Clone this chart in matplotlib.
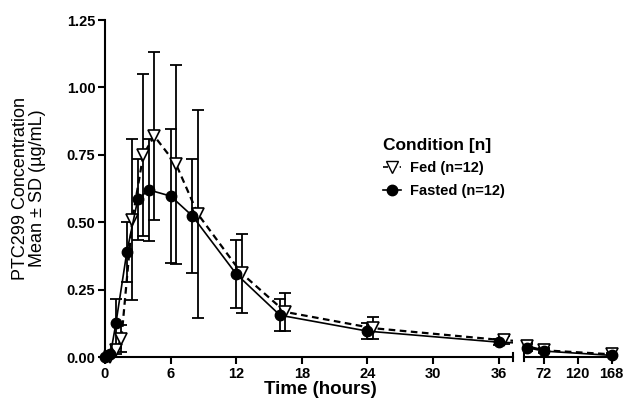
import matplotlib
matplotlib.use("Agg")
import matplotlib.pyplot as plt
import numpy as np

plt.rcParams['font.family'] = ['Liberation Sans', 'DejaVu Sans']

# === data ===
times = [0, 0.5, 1, 2, 3, 4, 6, 8, 12, 16, 24, 36, 48, 72, 168]
fasted = [0, 0.01, 0.125, 0.39, 0.585, 0.62, 0.597, 0.523, 0.308, 0.155, 0.096, 0.055, 0.035, 0.022, 0.006]
fasted_sd = [0, 0.01, 0.09, 0.11, 0.15, 0.19, 0.25, 0.21, 0.125, 0.06, 0.03, 0.01, 0.012, 0.008, 0.004]
fed = [0, 0.025, 0.068, 0.51, 0.75, 0.82, 0.715, 0.53, 0.31, 0.167, 0.107, 0.062, 0.04, 0.025, 0.01]
fed_sd = [0, 0.015, 0.05, 0.30, 0.30, 0.31, 0.37, 0.385, 0.146, 0.07, 0.04, 0.015, 0.012, 0.008, 0.005]
fed_nudge = 0.5  # fed points are shifted right a little on the first segment

left_ticks = [0, 6, 12, 18, 24, 30, 36]
right_ticks = [72, 120, 168]
y_ticks = [0.0, 0.25, 0.5, 0.75, 1.0, 1.25]

t = np.array(times, dtype=float)
t_fed = np.where(t < 40, t + fed_nudge, t)
fed = np.array(fed)
fasted = np.array(fasted)
fed_sd = np.array(fed_sd)
fasted_sd = np.array(fasted_sd)

fig = plt.figure(figsize=(6.23, 4.01), dpi=100)
ax1 = fig.add_axes([0.1685, 0.1097, 0.6549, 0.8403])
ax2 = fig.add_axes([0.8411, 0.1097, 0.1429, 0.8403])

segments = [(ax1, 0, 37.3), (ax2, 44, 170)]
for ax, lo, hi in segments:
    sf = (t_fed >= lo) & (t_fed <= hi)
    sa = (t >= lo) & (t <= hi)
    # fed: dashed line, open down triangles
    ax.plot(t_fed, fed, ls=(0, (3, 2)), color='black', lw=1.6, zorder=3)
    ax.errorbar(t_fed[sf], fed[sf], yerr=fed_sd[sf], fmt='none', ecolor='black',
                elinewidth=1.3, capsize=4, capthick=1.3, zorder=2)
    ax.plot(t_fed[sf], fed[sf], ls='none', marker='v', ms=8.5, mfc='white',
            mec='black', mew=1.2, zorder=3, clip_on=False)
    # fasted: solid line, filled circles
    ax.plot(t, fasted, ls='-', color='black', lw=1.2, zorder=4)
    ax.errorbar(t[sa], fasted[sa], yerr=fasted_sd[sa], fmt='none', ecolor='black',
                elinewidth=1.3, capsize=4, capthick=1.3, zorder=2)
    ax.plot(t[sa], fasted[sa], ls='none', marker='o', ms=7.5, mfc='black',
            mec='black', zorder=4, clip_on=False)
    ax.set_xlim(lo, hi)
    ax.set_ylim(0, 1.25)
    ax.spines['top'].set_visible(False)
    ax.spines['right'].set_visible(False)
    ax.spines['bottom'].set_linewidth(1.5)
    ax.spines['left'].set_linewidth(1.5)
    ax.tick_params(direction='out', length=5, width=1.5, labelsize=10.5, pad=2)

ax1.set_xticks(left_ticks)
ax1.set_xticklabels([str(v) for v in left_ticks], fontweight='bold')
ax1.set_yticks(y_ticks)
ax1.set_yticklabels(['%.2f' % v for v in y_ticks], fontweight='bold')

ax2.set_xticks(right_ticks)
ax2.set_xticklabels([str(v) for v in right_ticks], fontweight='bold')
ax2.spines['left'].set_visible(False)
ax2.set_yticks([])

# break marks at segment ends
ax1.plot([1, 1], [-0.012, 0.012], transform=ax1.transAxes, color='black', lw=1.5, clip_on=False)
ax2.plot([0, 0], [-0.012, 0.012], transform=ax2.transAxes, color='black', lw=1.5, clip_on=False)

fig.text(0.047, 0.531, 'PTC299 Concentration\nMean ± SD (µg/mL)', rotation=90,
         ha='center', va='center', fontsize=13, linespacing=1.0)
fig.text(0.514, 0.008, 'Time (hours)', ha='center', va='bottom', fontsize=13.5, fontweight='bold')

h_fed, = ax1.plot([], [], ls=(0, (3, 2)), color='black', lw=1.2, marker='v', ms=8,
                  mfc='white', mec='black')
h_fast, = ax1.plot([], [], ls='-', color='black', lw=1.2, marker='o', ms=7.5,
                   mfc='black', mec='black')
leg = ax1.legend([h_fed, h_fast], ['Fed (n=12)', 'Fasted (n=12)'], title='Condition [n]',
                 loc='upper left', bbox_to_anchor=(0.65, 0.69), frameon=False,
                 handlelength=1.2, handletextpad=0.6, labelspacing=0.6,
                 prop={'weight': 'bold', 'size': 10.5},
                 title_fontproperties={'weight': 'bold', 'size': 12.5})
leg._legend_box.align = 'left'

fig.savefig('out.png', dpi=100)
